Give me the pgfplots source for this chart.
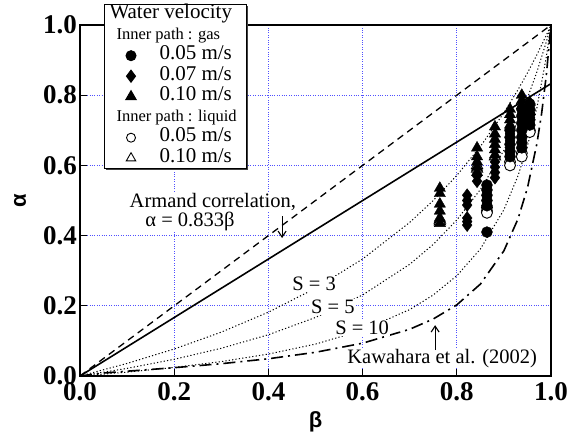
\documentclass[border=0pt]{standalone}
\usepackage{fontspec}
\setmainfont{Liberation Serif}
\newfontfamily\sansb{Liberation Sans}
\usepackage{pgfplots}
\usepackage{pgfplotstable}
\pgfplotsset{compat=1.18}
\usetikzlibrary{arrows.meta,shadows}
\pgfplotsset{markleg/.style={legend image code/.code={\path (-17pt,0pt) (17pt,0pt); \draw[##1, only marks] plot coordinates {(0pt,0pt)};}}}
\newcommand{\lt}[1]{\makebox[78pt][l]{#1}}
\definecolor{gridblue}{RGB}{80,80,255}

\pgfplotstableread{
b a
0.764 0.535
0.764 0.52
0.764 0.49
0.764 0.47
0.764 0.45
0.764 0.435
0.843 0.65
0.843 0.625
0.843 0.61
0.843 0.595
0.843 0.58
0.881 0.71
0.881 0.69
0.881 0.675
0.881 0.66
0.881 0.645
0.881 0.63
0.913 0.76
0.913 0.745
0.913 0.73
0.913 0.715
0.938 0.80
0.938 0.785
0.938 0.77
0.955 0.78
0.955 0.765
}\gasten

\pgfplotstableread{
b a
0.822 0.515
0.822 0.50
0.822 0.487
0.822 0.45
0.822 0.44
0.822 0.43
0.843 0.57
0.843 0.555
0.881 0.61
0.881 0.595
0.881 0.58
0.881 0.565
0.913 0.69
0.913 0.67
0.913 0.65
0.913 0.63
0.938 0.745
0.938 0.725
0.938 0.705
0.938 0.685
0.955 0.75
0.955 0.735
0.955 0.72
}\gasseven

\pgfplotstableread{
b a
0.864 0.544
0.864 0.53
0.864 0.515
0.864 0.50
0.864 0.485
0.864 0.41
0.913 0.70
0.913 0.68
0.913 0.66
0.913 0.64
0.913 0.625
0.938 0.76
0.938 0.74
0.938 0.72
0.938 0.70
0.938 0.68
0.938 0.665
0.938 0.65
0.955 0.775
0.955 0.76
0.955 0.745
0.955 0.73
0.955 0.715
}\gasfive

\pgfplotstableread{
b a
0.864 0.48
0.864 0.47
0.864 0.465
0.913 0.61
0.913 0.60
0.938 0.635
0.938 0.625
0.955 0.70
0.955 0.695
}\liqfive

\pgfplotstableread{
b a
0.764 0.445
0.764 0.44
0.843 0.60
0.843 0.59
0.881 0.625
}\liqten

\begin{document}
\begin{tikzpicture}
\begin{axis}[
  at={(0,0)}, anchor=south west,
  scale only axis, width=471pt, height=351pt,
  xmin=0, xmax=1, ymin=0, ymax=1,
  xtick={0,0.2,0.4,0.6,0.8,1}, ytick={0,0.2,0.4,0.6,0.8,1},
  xticklabels={0.0,0.2,0.4,0.6,0.8,1.0},
  yticklabels={0.0,0.2,0.4,0.6,0.8,1.0},
  tick pos=left, tick align=inside,
  major tick length=7pt,
  tick style={black, line width=1.1pt},
  axis line style={line width=1.2pt},
  grid=major,
  major grid style={gridblue, dotted, line width=0.9pt},
  ticklabel style={font=\fontsize{27}{27}\selectfont\bfseries, inner sep=0pt},
  xticklabel shift=6pt, yticklabel shift=3pt,
  xlabel={\sansb\bfseries β}, ylabel={\sansb\bfseries α},
  label style={font=\fontsize{22}{22}\selectfont},
  x label style={at={(axis description cs:0.5,-0.131)}, anchor=center},
  y label style={at={(axis description cs:-0.127,0.5)}, anchor=center},
  legend cell align=left,
  legend style={at={(axis description cs:0.051,1.06)}, anchor=north west,
    draw=black, line width=1pt, fill=white, inner xsep=9pt, inner ysep=0pt,
    drop shadow={shadow xshift=1.6pt, shadow yshift=-1.6pt, fill=black!75, opacity=1},
    row sep=0pt, font=\fontsize{21}{21}\selectfont,
    nodes={inner sep=0pt, text height=14.5pt, text depth=6pt},
    /tikz/every odd column/.append style={column sep=11pt}},
]
% legend
\addlegendimage{empty legend}\addlegendentry{\lt{\hspace*{-50pt}Water velocity}}
\addlegendimage{empty legend}\addlegendentry{\lt{\hspace*{-43pt}{\fontsize{16.5}{16.5}\selectfont Inner path : gas}}}
\addlegendimage{only marks, mark=*, mark size=5pt, black, markleg}\addlegendentry{\lt{0.05 m/s}}
\addlegendimage{only marks, mark=diamond*, mark size=6pt, black, markleg}\addlegendentry{\lt{0.07 m/s}}
\addlegendimage{only marks, mark=triangle*, mark size=6pt, black, markleg}\addlegendentry{\lt{0.10 m/s}}
\addlegendimage{empty legend}\addlegendentry{\lt{\hspace*{-43pt}{\fontsize{16.5}{16.5}\selectfont Inner path : liquid}}}
\addlegendimage{only marks, mark=*, mark size=4.5pt, black, mark options={fill=white, line width=0.9pt}, markleg}\addlegendentry{\lt{0.05 m/s}}
\addlegendimage{only marks, mark=triangle*, mark size=5.5pt, black, mark options={fill=white, line width=0.9pt}, markleg}\addlegendentry{\lt{0.10 m/s}}

% homogeneous alpha = beta
\addplot[forget plot, black, line width=1.3pt, dash pattern=on 7pt off 5pt] coordinates {(0,0) (1,1)};
% Armand
\addplot[forget plot, black, line width=1.6pt] coordinates {(0,0) (1,0.833)};
% S = 3
\addplot[forget plot, black, line width=1pt, dash pattern=on 1.2pt off 2.2pt] coordinates {
(0,0) (0.1,0.0357) (0.2,0.0769) (0.3,0.125) (0.4,0.1818) (0.5,0.25) (0.6,0.3333)
(0.7,0.4375) (0.75,0.5) (0.8,0.5714) (0.85,0.6538) (0.9,0.75) (0.93,0.8158)
(0.95,0.8636) (0.97,0.9151) (0.99,0.9706) (1,1)};
% S = 5
\addplot[forget plot, black, line width=1pt, dash pattern=on 1.2pt off 2.2pt] coordinates {
(0,0) (0.1,0.02174) (0.2,0.04762) (0.3,0.07895) (0.4,0.1176) (0.5,0.1667) (0.6,0.2308)
(0.7,0.3182) (0.75,0.375) (0.8,0.4444) (0.85,0.53125) (0.9,0.6429) (0.93,0.7266)
(0.95,0.7917) (0.97,0.8661) (0.99,0.9519) (1,1)};
% S = 10
\addplot[forget plot, black, line width=1pt, dash pattern=on 1.2pt off 2.2pt] coordinates {
(0,0) (0.1,0.01099) (0.2,0.02439) (0.3,0.0411) (0.4,0.0625) (0.5,0.0909) (0.6,0.1304)
(0.7,0.1892) (0.75,0.2308) (0.8,0.2857) (0.85,0.3617) (0.9,0.4737) (0.93,0.5706)
(0.95,0.6552) (0.97,0.7638) (0.99,0.9083) (1,1)};
% Kawahara et al. (2002)
\addplot[forget plot, black, line width=1.6pt, dash pattern=on 12pt off 5pt on 2pt off 5pt] coordinates {
(0,0) (0.05,0.00857) (0.1,0.01368) (0.2,0.0237) (0.3,0.03506) (0.4,0.0491) (0.5,0.06754)
(0.6,0.09348) (0.7,0.1332) (0.75,0.1624) (0.8,0.2027) (0.85,0.2617) (0.9,0.3567)
(0.93,0.4478) (0.95,0.5359) (0.97,0.6616) (0.98,0.7471) (0.99,0.8563) (1,1)};

% data: open markers first
\addplot[forget plot, only marks, mark=*, mark size=5.5pt, black, mark options={fill=white, line width=0.9pt}] table[x=b,y=a] {\liqfive};
\addplot[forget plot, only marks, mark=triangle*, mark size=6.5pt, black, mark options={fill=white, line width=0.9pt}] table[x=b,y=a] {\liqten};
\addplot[forget plot, only marks, mark=*, mark size=5.5pt, black] table[x=b,y=a] {\gasfive};
\addplot[forget plot, only marks, mark=diamond*, mark size=6.5pt, black] table[x=b,y=a] {\gasseven};
\addplot[forget plot, only marks, mark=triangle*, mark size=6.5pt, black] table[x=b,y=a] {\gasten};

% annotations
\begin{scope}[every node/.style={font=\fontsize{20.5}{20.5}\selectfont, fill=white, inner sep=1pt}]
\node at (axis cs:0.282,0.496) {Armand correlation,};
\node at (axis cs:0.2335,0.439) {α = 0.833β};
\node at (axis cs:0.497,0.262) {S = 3};
\node at (axis cs:0.537,0.196) {S = 5};
\node at (axis cs:0.599,0.137) {S = 10};
\node at (axis cs:0.769,0.051) {Kawahara et al. (2002)};
\end{scope}
\draw[-{Straight Barb[length=6pt,width=8pt]}, line width=1.1pt] (axis cs:0.429,0.455) -- (axis cs:0.429,0.393);
\draw[-{Straight Barb[length=6pt,width=8pt]}, line width=1.1pt] (axis cs:0.754,0.074) -- (axis cs:0.754,0.145);
\end{axis}
\pgfresetboundingbox
\path (-80pt,-61pt) rectangle (488pt,376pt);
\end{tikzpicture}
\end{document}
